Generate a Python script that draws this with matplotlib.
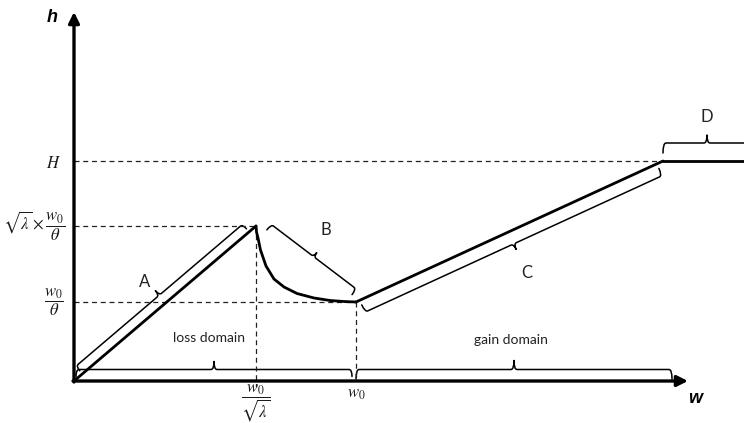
import numpy as np
import matplotlib
matplotlib.use("Agg")
import matplotlib.pyplot as plt
from matplotlib.path import Path
from matplotlib.patches import PathPatch

plt.rcParams['mathtext.fontset'] = 'stix'

# ---------------- data (schematic units) ----------------
w_peak = 182      # w0 / sqrt(lambda)
w_0 = 282         # w0
w_cap = 589       # where h reaches H
w_end = 700       # flat part runs off the chart
h_H = 220         # H
h_peak = 155      # sqrt(lambda) * w0 / theta
h_low = 79        # w0 / theta

# segment A and C (straight parts)
w_A = [0, w_peak]
h_A = [0, h_peak]
w_C = [w_0, w_cap]
h_C = [h_low, h_H]
w_D = [w_cap, w_end]
h_D = [h_H, h_H]

# curve B
w_B = [182, 182.5, 184, 186.5, 192, 200, 210, 223, 240, 256, 270, 282]
h_B = [155, 149, 143, 131, 115, 102, 94, 87.5, 83, 80.5, 79.5, 79]

seg_labels = ["A", "B", "C", "D"]
y_ticklabels = [r"$H$", r"$\sqrt{\lambda}\times\dfrac{w_0}{\theta}$", r"$\dfrac{w_0}{\theta}$"]
x_ticklabels = [r"$\dfrac{w_0}{\sqrt{\lambda}}$", r"$w_0$"]


def brace(ax, p0, p1, side, a0, a1, off, hook, tick, r=3.0, lw=1.1):
    p0 = np.array(p0, float)
    p1 = np.array(p1, float)
    u = (p1 - p0) / np.linalg.norm(p1 - p0)
    n = np.array([-u[1], u[0]]) * side
    s = p0 + u * a0
    e = p0 + u * a1
    m = (s + e) / 2
    verts = [s + n * hook,
             s + n * off, s + n * off + u * r,
             m + n * off - u * r,
             m + n * off, m + n * (off + tick),
             m + n * off, m + n * off + u * r,
             e + n * off - u * r,
             e + n * off, e + n * hook]
    codes = [Path.MOVETO,
             Path.CURVE3, Path.CURVE3,
             Path.LINETO,
             Path.CURVE3, Path.CURVE3,
             Path.CURVE3, Path.CURVE3,
             Path.LINETO,
             Path.CURVE3, Path.CURVE3]
    ax.add_patch(PathPatch(Path(verts, codes), fill=False, lw=lw, ec='black',
                           capstyle='round', joinstyle='round'))


fig = plt.figure(figsize=(7.44, 4.23), dpi=100)
ax = fig.add_axes([0, 0, 1, 1])
ax.set_xlim(-74, 670)
ax.set_ylim(-42, 381)
ax.axis('off')

# dashed guides
dash = dict(color='#222222', lw=0.9, ls=(0, (4, 3)))
ax.plot([0, w_cap], [h_H, h_H], **dash)
ax.plot([0, w_peak], [h_peak, h_peak], **dash)
ax.plot([0, w_0], [h_low, h_low], **dash)
ax.plot([w_peak, w_peak], [h_peak, -6], **dash)
ax.plot([w_0, w_0], [h_low, 0], **dash)

# axes with arrows
ax.annotate('', xy=(614, 0), xytext=(-1, 0),
            arrowprops=dict(arrowstyle='-|>', lw=2.4, color='black',
                            mutation_scale=16, shrinkA=0, shrinkB=0))
ax.annotate('', xy=(0, 369), xytext=(0, -1),
            arrowprops=dict(arrowstyle='-|>', lw=2.4, color='black',
                            mutation_scale=16, shrinkA=0, shrinkB=0))

# curve
line = dict(color='black', lw=2.0, solid_joinstyle='round', solid_capstyle='round')
ax.plot(w_A, h_A, **line)
ax.plot(w_B, h_B, **line)
ax.plot(w_C, h_C, **line)
ax.plot(w_D, h_D, **line)

# braces
brace(ax, (w_A[0], h_A[0]), (w_A[1], h_A[1]), 1, 11, 230, 10, 4, 6)
brace(ax, (w_B[0], h_B[0]), (w_B[-1], h_B[-1]), 1, 11, 118, 10.5, 3.5, 5)
brace(ax, (w_C[0], h_C[0]), (w_C[1], h_C[1]), -1, 4, 331, 13, 5, 6)
brace(ax, (w_D[0], h_D[0]), (w_D[1], h_D[1]), 1, 0, 88, 18, 8, 8)
brace(ax, (0, 0), (w_0, 0), 1, 2, 278, 11.5, 4.5, 8)
brace(ax, (w_0, 0), (w_cap + 30, 0), 1, 0, 316, 11.5, 2, 9)

# segment labels
txt = dict(fontsize=12, family='Lato', color='#222222', ha='center', va='center')
ax.text(71, 99, seg_labels[0], **txt)
ax.text(252, 151, seg_labels[1], **txt)
ax.text(453, 108, seg_labels[2], **txt)
ax.text(633, 264, seg_labels[3], **txt)

dom = dict(fontsize=10, family='Lato', color='#222222', ha='center', va='center')
ax.text(135, 43, "loss domain", **dom)
ax.text(437, 41, "gain domain", **dom)

# tick labels
mt = dict(fontsize=12, color='#1a1a1a', va='center')
ax.text(-13, h_H - 2, y_ticklabels[0], ha='right', **mt)
ax.text(-9, h_peak, y_ticklabels[1], ha='right', **mt)
ax.text(-10, h_low, y_ticklabels[2], ha='right', **mt)
ax.text(w_peak, -22, x_ticklabels[0], ha='center', **mt)
ax.text(w_0, -12, x_ticklabels[1], ha='center', **mt)

# axis names
ax.text(-22, 364, "h", fontsize=13, fontweight='bold', fontstyle='italic',
        family='Liberation Sans', ha='center', va='center')
ax.text(621, -17, "w", fontsize=13, fontweight='bold', fontstyle='italic',
        family='Liberation Sans', ha='center', va='center')

fig.savefig("out.png", dpi=100)
